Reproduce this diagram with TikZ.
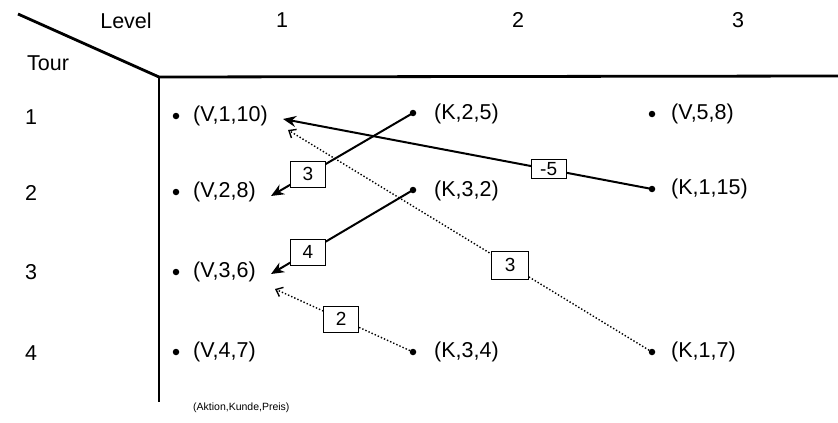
\documentclass[tikz,border=0pt]{standalone}
\usepackage{fontspec}
\setmainfont{Liberation Sans}
\usetikzlibrary{arrows.meta}
\begin{document}
\begin{tikzpicture}[x=1pt,y=-1pt,
  hdr/.style={font=\fontsize{21.5}{25}\selectfont, inner sep=0pt},
  txt/.style={font=\fontsize{21.5}{25}\selectfont, inner sep=0pt, anchor=west},
  dotn/.style={circle, fill, inner sep=0pt, minimum size=6.5pt},
  axis/.style={line width=2.8pt},
  solidarr/.style={line width=2pt, -{Stealth[length=13pt,width=11pt]}},
  dotarr/.style={line width=1.4pt, dotted, -{Straight Barb[length=6pt,width=10pt]}},
  lbl/.style={draw, solid, fill=white, line width=0.9pt, minimum width=35pt, minimum height=26pt, inner sep=0pt, font=\fontsize{19}{22}\selectfont},
]
\useasboundingbox (0,0) rectangle (838,423);
% axes
\coordinate (diag) at (18,14);
\coordinate (corner) at (159,77);
\coordinate (axr) at (838,76);
\coordinate (axb) at (159,402);
\draw[axis, line join=miter] (diag) -- (corner) -- (axr);
\draw[axis] (corner) -- (axb);
% headers
\node[hdr] (lev) at (126,21) {Level};
\node[hdr] (l1) at (282,20) {1};
\node[hdr] (l2) at (518,20) {2};
\node[hdr] (l3) at (738,20) {3};
\node[hdr] (tour) at (48,63) {Tour};
\node[hdr] (r1) at (31,117) {1};
\node[hdr] (r2) at (31,193) {2};
\node[hdr] (r3) at (31,272) {3};
\node[hdr] (r4) at (31,353) {4};
% column 1
\node[dotn] (dv110) at (176,116) {};
\node[txt] (v110) at (193,116) {(V,1,10)};
\node[dotn] (dv28) at (176,192) {};
\node[txt] (v28) at (193,192) {(V,2,8)};
\node[dotn] (dv36) at (176,272) {};
\node[txt] (v36) at (193,272) {(V,3,6)};
\node[dotn] (dv47) at (176,352) {};
\node[txt] (v47) at (193,352) {(V,4,7)};
% column 2
\node[dotn] (dk25) at (413,113) {};
\node[txt] (k25) at (434,114) {(K,2,5)};
\node[dotn] (dk32) at (413,190) {};
\node[txt] (k32) at (434,191) {(K,3,2)};
\node[dotn] (dk34) at (413,352) {};
\node[txt] (k34) at (434,352) {(K,3,4)};
% column 3
\node[dotn] (dv58) at (652,114) {};
\node[txt] (v58) at (671,114) {(V,5,8)};
\node[dotn] (dk115) at (652,189) {};
\node[txt] (k115) at (671,189) {(K,1,15)};
\node[dotn] (dk17) at (652,352) {};
\node[txt] (k17) at (671,352) {(K,1,7)};
% caption
\node[font=\fontsize{10.5}{12}\selectfont, inner sep=0pt, anchor=west] (cap) at (193,408) {(Aktion,Kunde,Preis)};
% arrow tips
\coordinate (tA) at (283,119);
\coordinate (tB) at (288,130);
\coordinate (tC) at (271,196);
\coordinate (tD) at (271,274);
\coordinate (tE) at (275,289);
% arrows
\draw[dotarr] (dk17.center) -- node[lbl, pos=0.39, minimum height=28pt, minimum width=37pt] (b3b) {3} (tB);
\draw[solidarr] (dk115.center) -- node[lbl, pos=0.28, minimum height=19pt] (b5) {-5} (tA);
\draw[solidarr] (dk25.center) -- node[lbl, pos=0.74] (b3a) {3} (tC);
\draw[solidarr] (dk32.center) -- node[lbl, pos=0.74] (b4) {4} (tD);
\draw[dotarr] (dk34.center) -- node[lbl, pos=0.52] (b2) {2} (tE);
\end{tikzpicture}
\end{document}
